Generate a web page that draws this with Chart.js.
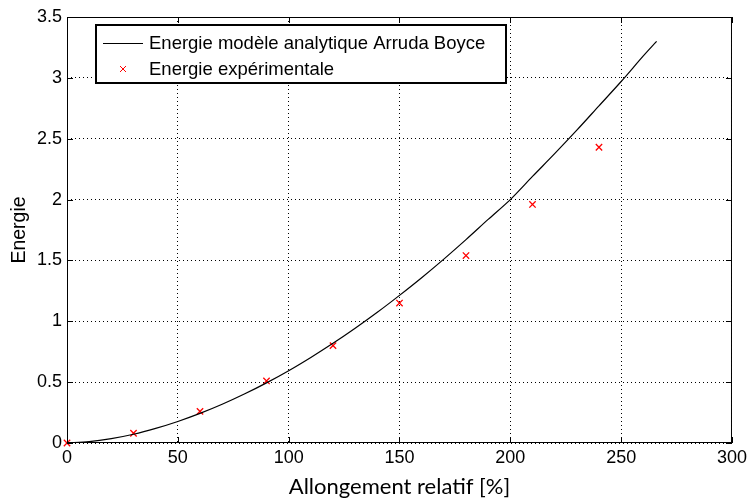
<!DOCTYPE html>
<html>
<head>
<meta charset="utf-8">
<script src="https://cdn.jsdelivr.net/npm/chart.js@4"></script>
<style>
  html, body { margin: 0; padding: 0; background: #fff; }
  #wrap { width: 751px; height: 501px; }
</style>
</head>
<body>
<div id="wrap"><canvas id="chart" width="751" height="501"></canvas></div>
<script>
// Model curve (Arruda Boyce)
const modelX = [0, 10, 20, 30, 40, 50, 60, 70, 80, 90, 100, 110, 120, 130, 140, 150, 160, 170, 180, 190, 200, 210, 220, 230, 240, 250, 260, 266];
const modelY = [0, 0.011, 0.036, 0.072, 0.12, 0.177, 0.243, 0.318, 0.402, 0.494, 0.594, 0.703, 0.819, 0.943, 1.074, 1.213, 1.358, 1.511, 1.671, 1.837, 2.0, 2.19, 2.377, 2.57, 2.77, 2.97, 3.18, 3.30];

// Experimental points
const expX = [0, 30, 60, 90, 120, 150, 180, 210, 240];
const expY = [0, 0.08, 0.26, 0.51, 0.80, 1.15, 1.54, 1.96, 2.43];

const seriesNames = ["Energie modèle analytique Arruda Boyce", "Energie expérimentale"];
const xTitle = "Allongement relatif [%]";
const yTitle = "Energie";

const sansFamily = "Arial, 'Liberation Sans', Helvetica, sans-serif";
const tickFont = { family: sansFamily, size: 18 };

// Box border, inward tick marks, legend box (MATLAB look)
const matlabFrame = {
  id: "matlabFrame",
  afterDraw(chart) {
    const { ctx, chartArea: a, scales } = chart;
    ctx.save();
    ctx.strokeStyle = "#000";
    ctx.lineWidth = 1;
    ctx.strokeRect(a.left + 0.5, a.top + 0.5, a.right - a.left - 1, a.bottom - a.top - 1);

    const len = 6;
    ctx.beginPath();
    scales.x.ticks.forEach((t) => {
      const px = Math.round(scales.x.getPixelForValue(t.value)) + 0.5;
      ctx.moveTo(px, a.bottom); ctx.lineTo(px, a.bottom - len);
      ctx.moveTo(px, a.top); ctx.lineTo(px, a.top + len);
    });
    scales.y.ticks.forEach((t) => {
      const py = Math.round(scales.y.getPixelForValue(t.value)) + 0.5;
      ctx.moveTo(a.left, py); ctx.lineTo(a.left + len, py);
      ctx.moveTo(a.right, py); ctx.lineTo(a.right - len, py);
    });
    ctx.stroke();

    // legend
    const lx = 96, ly = 25, lw = 410, lh = 58;
    ctx.fillStyle = "#fff";
    ctx.fillRect(lx, ly, lw, lh);
    ctx.lineWidth = 2;
    ctx.strokeRect(lx, ly, lw, lh);

    ctx.lineWidth = 1;
    ctx.beginPath();
    ctx.moveTo(103, 43.5); ctx.lineTo(143, 43.5);
    ctx.stroke();

    ctx.strokeStyle = "#ff0000";
    ctx.beginPath();
    ctx.moveTo(120, 66); ctx.lineTo(126, 72);
    ctx.moveTo(126, 66); ctx.lineTo(120, 72);
    ctx.stroke();

    ctx.fillStyle = "#000";
    ctx.font = "18.5px " + sansFamily;
    ctx.textBaseline = "middle";
    ctx.fillText(seriesNames[0], 149, 44);
    ctx.fillText(seriesNames[1], 149, 70);
    ctx.restore();
  }
};

new Chart(document.getElementById("chart"), {
  type: "scatter",
  data: {
    datasets: [
      {
        label: seriesNames[0],
        data: modelX.map((x, i) => ({ x, y: modelY[i] })),
        showLine: true,
        borderColor: "#000",
        borderWidth: 1.2,
        pointRadius: 0,
        tension: 0.3,
        fill: false,
      },
      {
        label: seriesNames[1],
        data: expX.map((x, i) => ({ x, y: expY[i] })),
        showLine: false,
        clip: false,
        pointStyle: "crossRot",
        pointRadius: 4.5,
        borderColor: "#ff0000",
        borderWidth: 1.3,
      },
    ],
  },
  options: {
    responsive: false,
    animation: false,
    layout: { padding: { left: 0, right: 17, top: 17, bottom: 0 } },
    plugins: { legend: { display: false }, tooltip: { enabled: false } },
    scales: {
      x: {
        type: "linear",
        min: 0,
        max: 300,
        ticks: { stepSize: 50, font: tickFont, color: "#000", padding: 4 },
        grid: { color: "#000", drawTicks: false, lineWidth: 1 },
        border: { display: false, dash: [1, 3] },
        title: { display: true, text: xTitle, font: { family: "Lato, 'Open Sans', sans-serif", size: 22 }, color: "#000", padding: { top: 0, bottom: 1 } },
        afterFit: (s) => { s.height = 58; },
      },
      y: {
        min: 0,
        max: 3.5,
        ticks: { stepSize: 0.5, font: tickFont, color: "#000", padding: 5, callback: (v) => String(+v.toFixed(1)) },
        grid: { color: "#000", drawTicks: false, lineWidth: 1 },
        border: { display: false, dash: [1, 3] },
        title: { display: true, text: yTitle, font: { family: sansFamily, size: 19.5 }, color: "#000", padding: { top: 8, bottom: 0 } },
        afterFit: (s) => { s.width = 67; },
      },
    },
  },
  plugins: [matlabFrame],
});
</script>
</body>
</html>
